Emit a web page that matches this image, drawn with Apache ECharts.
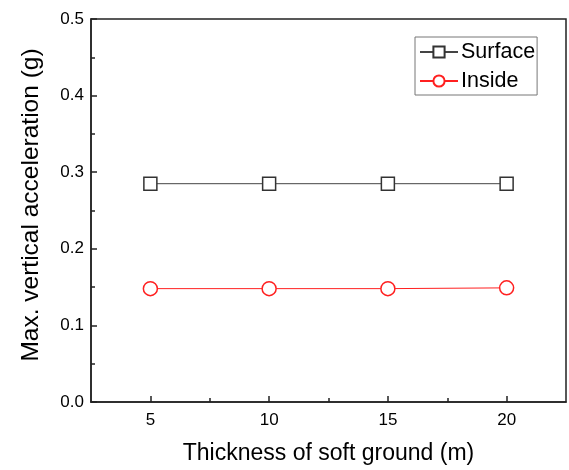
<!DOCTYPE html>
<html>
<head>
<meta charset="utf-8">
<script src="https://cdn.jsdelivr.net/npm/echarts@6/dist/echarts.min.js"></script>
<style>html,body{margin:0;padding:0;background:#fff}#c{width:569px;height:470px}</style>
</head>
<body>
<div id="c"></div>
<script>
var thickness = [5, 10, 15, 20];
var surface = [0.285, 0.285, 0.285, 0.285];
var inside = [0.148, 0.148, 0.148, 0.149];
var xMajorTicks = [5, 10, 15, 20];
var xMinorTicks = [7.5, 12.5, 17.5];

var font = '"Liberation Sans", Arial, sans-serif';
var chart = echarts.init(document.getElementById('c'), null, {renderer: 'canvas'});
function pairs(xs, ys) { return xs.map(function (x, i) { return [x, ys[i]]; }); }

chart.setOption({
  animation: false,
  backgroundColor: '#fff',
  grid: {left: 91, right: 3, top: 19, bottom: 67, show: true, borderColor: '#222', borderWidth: 1.5, containLabel: false},
  legend: {
    orient: 'vertical', left: 415, top: 37,
    borderColor: '#777', borderWidth: 1, borderRadius: 0,
    padding: [4, 2, 3, 4], itemGap: 7,
    itemWidth: 38, itemHeight: 14,
    textStyle: {fontFamily: font, fontSize: 21.5, color: '#000', padding: [0, 0, 0, -2]},
    data: ['Surface', 'Inside']
  },
  xAxis: [{
    type: 'value', min: 2.5, max: 22.5,
    name: 'Thickness of soft ground (m)', nameLocation: 'middle', nameGap: 40,
    nameTextStyle: {fontFamily: font, fontSize: 23, color: '#000'},
    axisLine: {show: true, lineStyle: {color: '#222', width: 1.5}},
    axisTick: {show: true, inside: true, length: 6, customValues: xMajorTicks, lineStyle: {color: '#222', width: 1.5}},
    axisLabel: {show: true, customValues: xMajorTicks, fontFamily: font, fontSize: 17, color: '#000', margin: 10},
    splitLine: {show: false}
  }, {
    type: 'value', min: 2.5, max: 22.5, position: 'bottom',
    axisLine: {show: false},
    axisTick: {show: true, inside: true, length: 4, customValues: xMinorTicks, lineStyle: {color: '#222', width: 1.5}},
    axisLabel: {show: false},
    splitLine: {show: false}
  }],
  yAxis: {
    type: 'value', min: 0, max: 0.5, interval: 0.1,
    name: 'Max. vertical acceleration (g)', nameLocation: 'middle', nameGap: 47,
    nameTextStyle: {fontFamily: font, fontSize: 24.5, color: '#000', padding: [0, 0, 0, 11]},
    axisLine: {show: true, lineStyle: {color: '#222', width: 1.5}},
    axisTick: {show: true, inside: true, length: 6, lineStyle: {color: '#222', width: 1.5}},
    minorTick: {show: true, splitNumber: 2, length: 4, lineStyle: {color: '#222', width: 1.5}},
    axisLabel: {fontFamily: font, fontSize: 17, color: '#000', margin: 7, formatter: function (v) { return v.toFixed(1); }},
    splitLine: {show: false}
  },
  series: [{
    name: 'Surface', type: 'line', xAxisIndex: 0,
    data: pairs(thickness, surface),
    symbol: 'rect', symbolSize: 13,
    lineStyle: {color: '#444', width: 1},
    itemStyle: {color: '#fff', borderColor: '#333', borderWidth: 1.5}
  }, {
    name: 'Inside', type: 'line', xAxisIndex: 0,
    data: pairs(thickness, inside),
    symbol: 'circle', symbolSize: 14,
    lineStyle: {color: '#ff2020', width: 1},
    itemStyle: {color: '#fff', borderColor: '#ff2020', borderWidth: 1.5}
  }]
});
</script>
</body>
</html>
